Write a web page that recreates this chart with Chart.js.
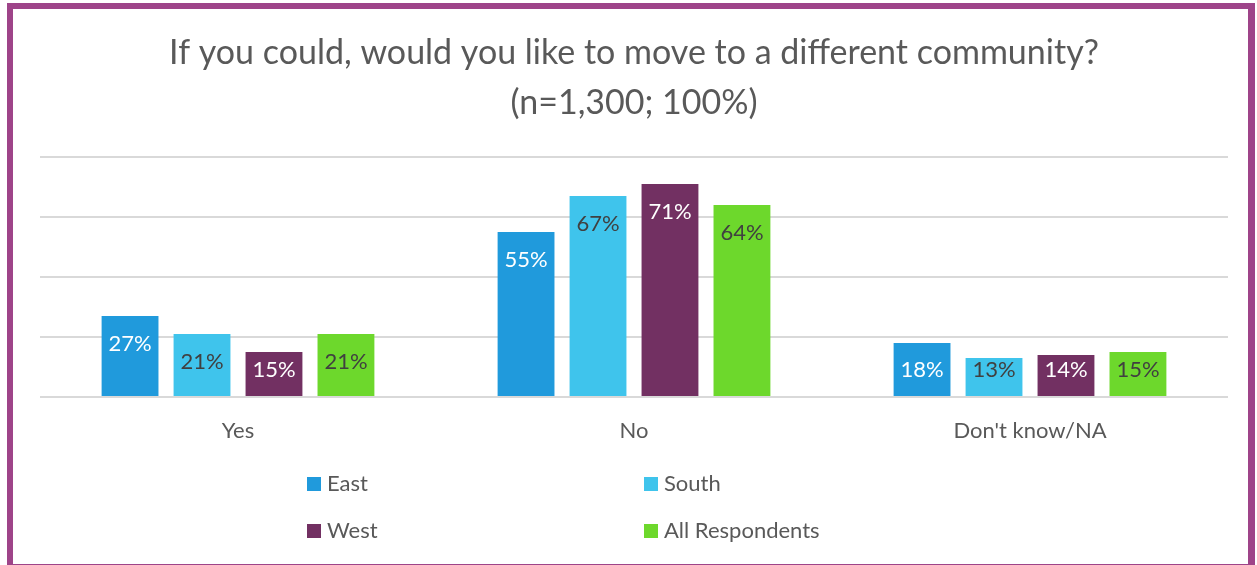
<!DOCTYPE html>
<html>
<head>
<meta charset="utf-8">
<script src="https://cdn.jsdelivr.net/npm/chart.js@4.4.1/dist/chart.umd.min.js"></script>
<style>
  html, body { margin: 0; padding: 0; background: #ffffff; overflow: hidden; }
  #wrap { position: absolute; left: 0; top: 0; width: 1257px; height: 565px; }
  #frame { position: absolute; left: 7px; top: 3px; width: 1248px; height: 567px; box-sizing: border-box;
           border-top: 6px solid #9E4489; border-left: 6px solid #9E4489; border-right: 7px solid #9E4489; border-bottom: 6px solid #9E4489; pointer-events: none; }
</style>
</head>
<body>
<div id="wrap"><canvas id="c" width="1257" height="565"></canvas><div id="frame"></div></div>
<script>
const categories = ['Yes', 'No', "Don't know/NA"];
const seriesNames = ['East', 'South', 'West', 'All Respondents'];
const eastValues = [27, 55, 18];
const southValues = [21, 67, 13];
const westValues = [15, 71, 14];
const allValues = [21, 64, 15];
const yTickValues = [0, 20, 40, 60, 80];
const titleLines = ['If you could, would you like to move to a different community?', '(n=1,300; 100%)'];

const seriesColors = ['#209ADC', '#3FC4EC', '#723062', '#6DD82C'];
const labelColors = ['#ffffff', '#404040', '#ffffff', '#404040'];
const FONT = 'Lato, "Open Sans", sans-serif';
const TEXT = '#595959';

const barLabels = {
  id: 'barLabels',
  afterDatasetsDraw(chart) {
    const ctx = chart.ctx;
    ctx.save();
    ctx.font = '22px ' + FONT;
    ctx.textAlign = 'center';
    ctx.textBaseline = 'middle';
    chart.data.datasets.forEach((ds, di) => {
      const meta = chart.getDatasetMeta(di);
      meta.data.forEach((el, i) => {
        const y = Math.min(el.y + 28, el.base - 26);
        ctx.fillStyle = labelColors[di];
        ctx.fillText(ds.data[i] + '%', el.x, y);
      });
    });
    ctx.restore();
  }
};

const gridLegend = {
  id: 'gridLegend',
  afterDraw(chart) {
    const ctx = chart.ctx;
    ctx.save();
    ctx.font = '22px ' + FONT;
    ctx.textBaseline = 'middle';
    ctx.textAlign = 'left';
    const cols = [307, 644];
    const rows = [484, 531];
    chart.data.datasets.forEach((ds, di) => {
      const x = cols[di % 2];
      const y = rows[Math.floor(di / 2)];
      ctx.fillStyle = ds.backgroundColor;
      ctx.fillRect(x, y - 7, 14, 14);
      ctx.fillStyle = TEXT;
      ctx.fillText(ds.label, x + 20, y);
    });
    ctx.restore();
  }
};

const valueSets = [eastValues, southValues, westValues, allValues];

new Chart(document.getElementById('c'), {
  type: 'bar',
  data: {
    labels: categories,
    datasets: seriesNames.map((name, i) => ({
      label: name,
      data: valueSets[i],
      backgroundColor: seriesColors[i],
      borderWidth: 0,
      categoryPercentage: 0.727,
      barPercentage: 0.79
    }))
  },
  options: {
    responsive: false,
    animation: false,
    devicePixelRatio: 1,
    layout: { padding: { left: 40, right: 29, top: 0, bottom: 0 } },
    plugins: {
      legend: { display: false },
      tooltip: { enabled: false },
      title: {
        display: true,
        text: titleLines,
        color: TEXT,
        font: { family: FONT, size: 34, weight: 'normal', lineHeight: 50 / 34 },
        padding: { top: 28, bottom: 29 }
      }
    },
    scales: {
      x: {
        grid: { display: false },
        border: { display: false },
        ticks: { color: TEXT, font: { family: FONT, size: 22 }, padding: 13 },
        afterFit(axis) { axis.height = 168; }
      },
      y: {
        min: 0,
        max: 80,
        afterBuildTicks(axis) { axis.ticks = yTickValues.map(v => ({ value: v })); },
        ticks: { display: false },
        grid: { color: '#D9D9D9', lineWidth: 2, drawTicks: false },
        border: { display: false },
        afterFit(axis) { axis.width = 0; }
      }
    }
  },
  plugins: [barLabels, gridLegend]
});
</script>
</body>
</html>
